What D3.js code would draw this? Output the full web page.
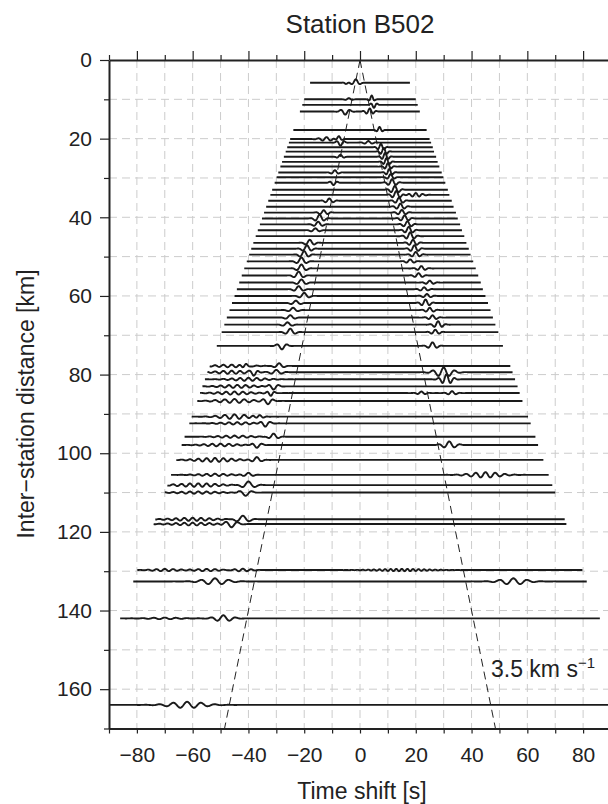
<!DOCTYPE html>
<html>
<head>
<meta charset="utf-8">
<script src="https://cdn.jsdelivr.net/npm/d3@7"></script>
<style>
body { margin: 0; background: #fff; }
svg { font-family: "Liberation Sans", Arial, sans-serif; }
</style>
</head>
<body>
<div id="chart"></div>
<script>
// Inter-station distance of every correlation trace [km]
var traceDist = [5.8, 10.0, 11.4, 13.1, 17.8, 20.1, 21.0, 22.2, 23.3, 24.6, 25.9, 27.1, 28.6, 29.8,
    31.2, 33.0, 34.3, 35.8, 37.3, 38.8, 40.3, 41.8, 43.3, 44.8, 46.5, 48.0, 49.5, 51.2, 53.0,
    54.8, 56.6, 58.3, 60.0, 61.8, 63.6, 65.5, 67.3, 69.2, 72.7, 77.8, 79.4, 81.2, 83.0, 84.7,
    86.7, 90.7, 92.4, 95.8, 97.9, 101.7, 105.5, 108.1, 110.0, 116.8, 118.0, 129.7, 132.6,
    142.0, 164.0];

// wave packets: [distance km, centre time s, amplitude km, period s, half-width s]
var arrivals = [
    [5.8, -1.5, 0.9, 3.5, 1.6], [5.8, -5, -0.3, 3, 1],
    [10.0, 4.2, 1.0, 2.5, 1.0], [10.0, -4, 0.3, 3, 1.5],
    [11.4, 5, -0.8, 2.5, 1.2],
    [13.1, -5.3, -0.8, 3.5, 2], [13.1, 3.5, 0.8, 2.5, 1.8],
    [17.8, 7, 0.8, 2.5, 1.2],
    [20.1, -12, 0.5, 3, 3], [20.1, -7.6, 0.8, 3, 1.2],
    [21.0, -7, -0.8, 3, 1.5], [21.0, 3, 0.4, 3, 2],
    [22.2, 7.5, 0.9, 2.5, 1.5],
    [23.3, 8.5, 1.0, 2.5, 1.5],
    [24.6, 9, 1.0, 2.5, 1.5], [24.6, -7, 0.5, 3, 1.5],
    [25.9, 9.5, 1.0, 2.5, 1.5],
    [27.1, 10, 0.9, 2.5, 1.5],
    [28.6, 10.5, 0.9, 2.5, 1.5], [28.6, -9, 0.6, 3, 1.5],
    [29.8, 11, 0.8, 3, 1.5],
    [31.2, 11.5, 0.9, 3, 2], [31.2, -9.5, -0.6, 3, 1.5],
    [33.0, 12.5, 1.0, 3, 2],
    [34.3, 13, 1.0, 3, 2], [34.3, 20, 0.5, 2.5, 3],
    [35.8, -11, 0.6, 3, 2], [35.8, 14, 0.8, 3, 2],
    [37.3, 14.5, 0.8, 3, 2],
    [38.8, -13, 0.6, 3, 2], [38.8, 15, 0.7, 3, 2],
    [40.3, -14.5, 1.0, 3.5, 2], [40.3, 16, 0.8, 3, 2],
    [41.8, -15, 0.7, 3.5, 2], [41.8, 17, 0.8, 3, 2],
    [43.3, 17.5, 0.9, 3, 2], [43.3, -16, 0.5, 3.5, 2],
    [44.8, 18, 1.0, 3, 2],
    [46.5, -18, 0.8, 3.5, 2], [46.5, 19, 0.8, 3, 2],
    [48.0, -19, 0.9, 3.5, 2], [48.0, 19.5, 0.9, 3, 2],
    [49.5, -20, 0.9, 3.5, 2], [49.5, 20, 0.7, 3, 2],
    [51.2, -21, 1.0, 4, 2], [51.2, 18, 0.5, 3, 2],
    [53.0, -21, 1.0, 4, 2], [53.0, 22, 0.6, 3, 2],
    [54.8, -22, 1.0, 4, 2], [54.8, 21, 0.6, 3, 2],
    [56.6, -21, 0.8, 4, 2], [56.6, 25, 0.5, 3, 2],
    [58.3, -22, 0.8, 4, 2], [58.3, 23, 0.5, 3, 2],
    [60.0, -20, 0.8, 4, 2], [60.0, 24, 0.5, 3, 2],
    [61.8, -23, 0.6, 4, 2], [61.8, 23.5, 0.9, 3, 2],
    [63.6, -24, 0.6, 4, 2], [63.6, 25, 0.6, 3, 2],
    [65.5, -25, 0.6, 4, 2], [65.5, 26, 0.6, 3, 2],
    [67.3, -26, 0.6, 4, 2], [67.3, 28, 0.9, 3, 2],
    [69.2, -25, 0.9, 4, 2], [69.2, 27, 0.6, 3, 2],
    [72.7, -28, -0.9, 4, 2], [72.7, 26, 0.9, 3.5, 2],
    [77.8, -46, 0.35, 3, 8], [77.8, -41, 0.6, 3, 1.5], [77.8, -29, 0.7, 4, 2],
    [79.4, -46, 0.4, 3, 8], [79.4, -38, -0.8, 3.5, 1.5], [79.4, -30, 0.6, 4, 2.5], [79.4, 30, 1.2, 4, 4],
    [81.2, -40, 0.4, 3, 8], [81.2, 31, 1.3, 3, 2.5],
    [83.0, -44, 0.4, 3, 8], [83.0, -31, -0.8, 4, 2],
    [84.7, -45, 0.4, 3, 8], [84.7, -32, -0.7, 3, 1.5], [84.7, 22, 0.4, 3, 2], [84.7, 33, 0.5, 3, 2],
    [86.7, -45, 0.5, 3.5, 8], [86.7, -33, -0.8, 4, 2],
    [90.7, -45, 0.6, 3.5, 7], [90.7, -36, 0.5, 3, 2],
    [92.4, -44, 0.3, 3, 8], [92.4, -34, -0.8, 4, 2],
    [95.8, -45, 0.3, 3, 8], [95.8, -31, 0.8, 4, 2],
    [97.9, -50, 0.35, 3, 8], [97.9, -37, -0.7, 4, 2], [97.9, 32, 0.9, 4, 3],
    [101.7, -52, 0.5, 3, 9], [101.7, -37, 0.7, 4, 2],
    [105.5, -52, 0.3, 3, 8], [105.5, -40, 0.5, 4, 2], [105.5, 45, 0.7, 3.5, 7],
    [108.1, -58, 0.45, 3, 10], [108.1, -40, 0.9, 5, 3],
    [110.0, -58, 0.3, 3, 10], [110.0, -41, -0.8, 5, 2.5],
    [116.8, -60, 0.4, 3, 10], [116.8, -42, 0.9, 5, 3],
    [118.0, -60, 0.35, 3, 10], [118.0, -46, -0.8, 4.5, 3],
    [129.7, -70, 0.3, 3, 6], [129.7, -55, 0.3, 3, 6], [129.7, -42, 0.35, 3, 4], [129.7, 15, 0.3, 2, 12],
    [132.6, -52, 0.8, 5, 6], [132.6, 55, 0.8, 5, 6],
    [142.0, -49, 0.8, 4.5, 4], [142.0, -70, 0.2, 4, 8],
    [164.0, -62, 0.8, 5, 8]
];

var xTicks = d3.range(-90, 91, 10);   // time shift [s]
var yTicks = d3.range(0, 171, 10);    // distance [km]
var velocity = 3.5;                   // km/s reference moveout

var width = 608, height = 804;
var plotLeft = 109, plotTop = 60, plotRight = 611, plotBottom = 728.5;

var svg = d3.select("#chart").append("svg")
    .attr("width", width)
    .attr("height", height);

var x = d3.scaleLinear().domain([-90, 90]).range([plotLeft, plotRight]);
var y = d3.scaleLinear().domain([0, 170]).range([plotTop, plotBottom]);

svg.append("clipPath").attr("id", "plot-clip")
    .append("rect")
    .attr("x", plotLeft).attr("y", plotTop)
    .attr("width", plotRight - plotLeft).attr("height", plotBottom - plotTop);

// Gridlines
var grid = svg.append("g").attr("class", "grid")
    .attr("stroke", "#cccccc")
    .attr("stroke-width", 1)
    .attr("stroke-dasharray", "8,5");
grid.selectAll(".vgrid")
    .data(xTicks.filter(function(d) { return d > -90 && d < 90; }))
    .enter().append("line")
    .attr("x1", function(d) { return x(d); })
    .attr("x2", function(d) { return x(d); })
    .attr("y1", plotTop).attr("y2", plotBottom);
grid.selectAll(".hgrid")
    .data(yTicks.filter(function(d) { return d > 0 && d < 170; }))
    .enter().append("line")
    .attr("y1", function(d) { return y(d); })
    .attr("y2", function(d) { return y(d); })
    .attr("x1", plotLeft).attr("x2", plotRight);

// 3.5 km/s moveout lines
var moveout = svg.append("g").attr("clip-path", "url(#plot-clip)");
[-1, 1].forEach(function(s) {
    moveout.append("line")
        .attr("x1", x(0)).attr("y1", y(0))
        .attr("x2", x(s * 170 / velocity)).attr("y2", y(170))
        .attr("stroke", "#222")
        .attr("stroke-width", 1)
        .attr("stroke-dasharray", "8,5");
});

// Traces
function traceValue(d, t) {
    var v = 0;
    arrivals.forEach(function(a) {
        if (a[0] !== d) return;
        var u = (t - a[1]) / a[4];
        v += a[2] * Math.exp(-u * u) * Math.cos(2 * Math.PI * (t - a[1]) / a[3]);
    });
    return v;
}

var line = d3.line()
    .x(function(p) { return x(p[0]); })
    .y(function(p) { return y(p[1]); });

var traces = svg.append("g").attr("clip-path", "url(#plot-clip)");
traceDist.forEach(function(d) {
    var half = Math.min(d / 2 + 15, 95);
    var pts = d3.range(-half, half + 0.001, 0.2).map(function(t) {
        return [t, d - traceValue(d, t)];
    });
    traces.append("path")
        .datum(pts)
        .attr("d", line)
        .attr("fill", "none")
        .attr("stroke", "#1a1a1a")
        .attr("stroke-width", 1.9)
        .attr("stroke-linejoin", "round");
});

// Axes
var yAxis = d3.axisLeft(y)
    .tickValues(yTicks)
    .tickSize(9)
    .tickSizeOuter(0)
    .tickPadding(8)
    .tickFormat(function(d) { return d % 20 === 0 ? d : ""; });
var gy = svg.append("g").attr("transform", "translate(" + plotLeft + ",0)").call(yAxis);
gy.selectAll(".tick line").attr("x2", function(d) { return d % 20 === 0 ? -9 : -5; });

var xTop = d3.axisTop(x).tickValues(xTicks).tickSize(9).tickSizeOuter(0).tickFormat("");
var gt = svg.append("g").attr("transform", "translate(0," + plotTop + ")").call(xTop);
gt.selectAll(".tick line").attr("y2", function(d) { return d % 20 === 0 ? -9 : -5; });

var xBottom = d3.axisBottom(x)
    .tickValues(xTicks)
    .tickSize(5)
    .tickSizeOuter(0)
    .tickPadding(14)
    .tickFormat(function(d) { return (d % 20 === 0 && Math.abs(d) < 90) ? d3.format("")(d) : ""; });
var gb = svg.append("g").attr("transform", "translate(0," + plotBottom + ")").call(xBottom);

svg.selectAll(".domain").attr("stroke", "#222").attr("stroke-width", 2);
svg.selectAll(".tick line").attr("stroke", "#222").attr("stroke-width", 1.2);
svg.selectAll(".tick text").attr("fill", "#222").style("font-size", "21px")
    .style("font-family", "'Liberation Sans', Arial, sans-serif");

// Titles and labels
svg.append("text")
    .attr("x", 360).attr("y", 33)
    .attr("text-anchor", "middle")
    .attr("fill", "#222")
    .style("font-size", "26px")
    .text("Station B502");

svg.append("text")
    .attr("x", 362).attr("y", 799)
    .attr("text-anchor", "middle")
    .attr("fill", "#222")
    .style("font-size", "23px")
    .text("Time shift [s]");

svg.append("text")
    .attr("transform", "translate(34," + 404 + ") rotate(-90)")
    .attr("text-anchor", "middle")
    .attr("fill", "#222")
    .style("font-size", "23px")
    .text("Inter\u2212station distance [km]");

var vel = svg.append("text")
    .attr("x", 491).attr("y", 677)
    .attr("fill", "#222")
    .style("font-size", "23px");
vel.append("tspan").text("3.5 km s");
vel.append("tspan").attr("dy", -9).style("font-size", "15px").text("\u22121");
</script>
</body>
</html>
